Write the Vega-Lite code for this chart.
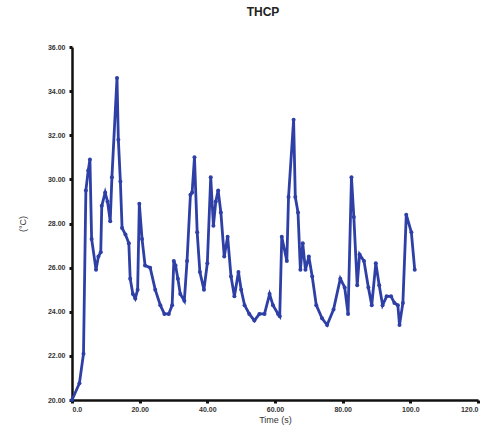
{
  "$schema": "https://vega.github.io/schema/vega-lite/v6.json",
  "autosize": {"type": "none"},
  "padding": {"left": 72, "top": 47, "right": 6, "bottom": 34},
  "width": 406,
  "height": 353,
  "background": "white",
  "title": {"text": "THCP", "fontSize": 12, "font": "Liberation Sans", "fontWeight": "bold", "color": "#222", "offset": 24, "dx": -12},
  "config": {"view": {"stroke": null}},
  "data": {"values": [
    {"t": 0, "v": 20.0}, {"t": 2.2, "v": 20.76}, {"t": 3.4, "v": 22.1}, {"t": 4.1, "v": 29.5},
    {"t": 4.8, "v": 30.4}, {"t": 5.3, "v": 30.9}, {"t": 5.8, "v": 27.3}, {"t": 7.1, "v": 25.9},
    {"t": 7.8, "v": 26.5}, {"t": 8.5, "v": 26.7}, {"t": 8.8, "v": 28.8}, {"t": 9.8, "v": 29.4},
    {"t": 10.5, "v": 29.0}, {"t": 11.3, "v": 28.1}, {"t": 11.8, "v": 30.1}, {"t": 13.3, "v": 34.6},
    {"t": 13.7, "v": 31.8}, {"t": 14.3, "v": 29.9}, {"t": 14.8, "v": 27.8}, {"t": 15.8, "v": 27.5},
    {"t": 16.8, "v": 27.1}, {"t": 17.2, "v": 25.5}, {"t": 18.0, "v": 24.8}, {"t": 18.7, "v": 24.6},
    {"t": 19.4, "v": 25.0}, {"t": 19.9, "v": 28.9}, {"t": 20.7, "v": 27.3}, {"t": 21.6, "v": 26.1},
    {"t": 23.1, "v": 26.0}, {"t": 24.6, "v": 25.0}, {"t": 26.1, "v": 24.3}, {"t": 27.3, "v": 23.9},
    {"t": 28.6, "v": 23.9}, {"t": 29.6, "v": 24.3}, {"t": 30.1, "v": 26.3}, {"t": 30.6, "v": 26.1},
    {"t": 31.3, "v": 25.5}, {"t": 32.0, "v": 24.8}, {"t": 33.2, "v": 24.5}, {"t": 34.0, "v": 26.3},
    {"t": 35.0, "v": 29.3}, {"t": 35.5, "v": 29.4}, {"t": 36.2, "v": 31.0}, {"t": 37.0, "v": 27.6},
    {"t": 37.8, "v": 25.8}, {"t": 39.0, "v": 25.0}, {"t": 40.0, "v": 26.2}, {"t": 41.0, "v": 30.1},
    {"t": 41.8, "v": 27.9}, {"t": 42.5, "v": 29.0}, {"t": 43.2, "v": 29.5}, {"t": 44.0, "v": 28.5},
    {"t": 45.0, "v": 26.5}, {"t": 46.0, "v": 27.4}, {"t": 47.0, "v": 25.6}, {"t": 48.0, "v": 24.7},
    {"t": 49.2, "v": 25.8}, {"t": 50.0, "v": 25.0}, {"t": 51.0, "v": 24.3}, {"t": 52.4, "v": 23.9},
    {"t": 53.9, "v": 23.6}, {"t": 55.4, "v": 23.9}, {"t": 56.9, "v": 23.9}, {"t": 58.4, "v": 24.8},
    {"t": 59.4, "v": 24.3}, {"t": 60.9, "v": 23.9}, {"t": 61.4, "v": 23.8}, {"t": 62.0, "v": 27.4},
    {"t": 63.5, "v": 26.3}, {"t": 64.0, "v": 29.2}, {"t": 65.5, "v": 32.7}, {"t": 66.0, "v": 29.2},
    {"t": 66.8, "v": 28.5}, {"t": 67.5, "v": 25.9}, {"t": 68.2, "v": 27.1}, {"t": 69.0, "v": 25.9},
    {"t": 70.0, "v": 26.5}, {"t": 71.0, "v": 25.6}, {"t": 72.2, "v": 24.3}, {"t": 73.9, "v": 23.7},
    {"t": 75.4, "v": 23.4}, {"t": 77.3, "v": 24.1}, {"t": 79.3, "v": 25.5}, {"t": 80.6, "v": 25.1},
    {"t": 81.6, "v": 23.9}, {"t": 82.6, "v": 30.1}, {"t": 83.3, "v": 28.3}, {"t": 84.3, "v": 25.2},
    {"t": 85.0, "v": 26.6}, {"t": 86.3, "v": 26.3}, {"t": 87.6, "v": 25.1}, {"t": 88.6, "v": 24.3},
    {"t": 89.8, "v": 26.2}, {"t": 90.8, "v": 25.2}, {"t": 91.8, "v": 24.3}, {"t": 93.0, "v": 24.7},
    {"t": 94.3, "v": 24.7}, {"t": 95.3, "v": 24.4}, {"t": 96.3, "v": 24.3}, {"t": 96.8, "v": 23.4},
    {"t": 97.8, "v": 24.4}, {"t": 98.8, "v": 28.4}, {"t": 100.3, "v": 27.6}, {"t": 101.3, "v": 25.9}
  ]},
  "mark": {"type": "line", "color": "#2e3fa6", "strokeWidth": 2.8, "point": {"filled": true, "size": 16, "color": "#2e3fa6"}},
  "encoding": {
    "x": {
      "field": "t", "type": "quantitative",
      "scale": {"domain": [0, 120], "nice": false, "zero": false},
      "axis": {
        "title": "Time (s)", "titleFont": "Liberation Sans", "titleFontSize": 9, "titleFontWeight": "normal", "titleColor": "#333", "titlePadding": 3,
        "values": [0, 20, 40, 60, 80, 100, 120],
        "labelExpr": "datum.value == 0 ? '0.0' : (datum.value >= 100 ? format(datum.value, '.1f') : format(datum.value, '.2f'))",
        "labelFont": "Liberation Sans", "labelFontSize": 7, "labelFontWeight": "bold", "labelColor": "#333", "labelPadding": 2,
        "domainColor": "#111", "domainWidth": 2.5, "tickColor": "#111", "tickWidth": 3, "tickSize": 3, "grid": false
      }
    },
    "y": {
      "field": "v", "type": "quantitative",
      "scale": {"domain": [20, 36], "nice": false, "zero": false},
      "axis": {
        "title": "(°C)", "titleFont": "Liberation Sans", "titleFontSize": 9, "titleFontWeight": "normal", "titleColor": "#333", "titlePadding": 20,
        "values": [20, 22, 24, 26, 28, 30, 32, 34, 36],
        "format": ".2f",
        "labelFont": "Liberation Sans", "labelFontSize": 7, "labelFontWeight": "bold", "labelColor": "#333", "labelPadding": 4,
        "domainColor": "#111", "domainWidth": 2.5, "tickColor": "#111", "tickWidth": 3, "tickSize": 3, "grid": false
      }
    }
  }
}
